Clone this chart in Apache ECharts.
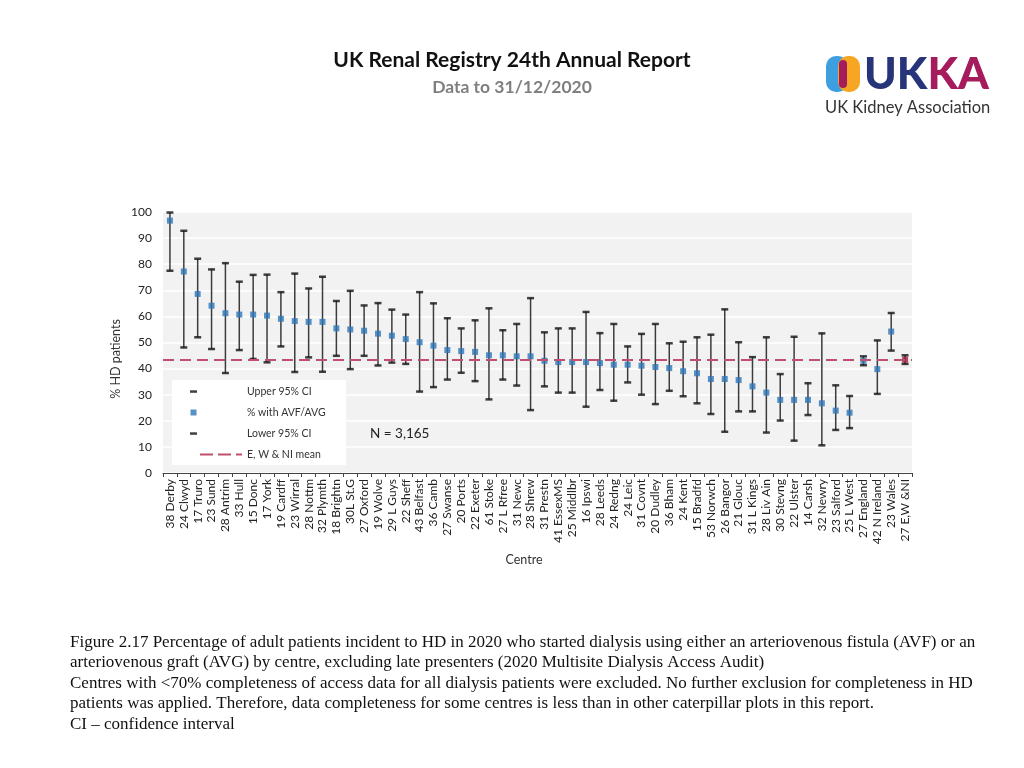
<!DOCTYPE html>
<html>
<head>
<meta charset="utf-8">
<script src="https://cdn.jsdelivr.net/npm/echarts@6/dist/echarts.min.js"></script>
<style>html,body{margin:0;padding:0;background:#fff;}#c{width:1024px;height:768px;}</style>
</head>
<body>
<div id="c"></div>
<script>
var categories = ["38 Derby","24 Clwyd","17 Truro","23 Sund","28 Antrim","33 Hull","15 Donc","17 York","19 Cardff","23 Wirral","28 Nottm","32 Plymth","18 Brightn","30L St.G","27 Oxford","19 Wolve","29 L Guys","22 Sheff","43 Belfast","36 Camb","27 Swanse","20 Ports","22 Exeter","61 Stoke","27 L Rfree","31 Newc","28 Shrew","31 Prestn","41 EssexMS","25 Middlbr","16 Ipswi","28 Leeds","24 Redng","24 Leic","31 Covnt","20 Dudley","36 Bham","24 Kent","15 Bradfd","53 Norwch","26 Bangor","21 Glouc","31 L Kings","28 Liv Ain","30 Stevng","22 Ulster","14 Carsh","32 Newry","23 Salford","25 L West","27 England","42 N Ireland","23 Wales","27 E,W &NI"];
var pctAVF = [96.7,77.2,68.6,64.1,61.2,60.7,60.7,60.3,59.1,58.2,57.9,57.9,55.4,55.0,54.5,53.4,52.6,51.3,50.1,48.8,47.1,46.7,46.4,45.1,45.1,44.7,44.7,43.0,42.5,42.5,42.5,42.1,41.5,41.5,41.1,40.6,40.2,39.0,38.2,36.0,36.0,35.6,33.2,30.8,28.0,28.0,28.0,26.7,23.9,23.1,43.0,39.8,54.2,43.4];
var upperCI = [99.8,92.8,82.1,78.0,80.4,73.3,75.9,76.0,69.3,76.4,70.7,75.2,65.9,69.8,64.2,65.1,62.6,60.7,69.3,65.0,59.3,55.4,58.5,63.1,54.7,57.1,67.0,53.9,55.4,55.4,61.7,53.6,57.1,48.5,53.3,57.1,49.7,50.3,52.0,53.0,62.7,50.1,44.4,52.0,37.9,52.2,34.4,53.5,33.6,29.5,44.7,50.8,61.3,45.1];
var lowerCI = [77.5,48.1,52.0,47.5,38.3,47.1,43.7,42.4,48.5,38.7,44.3,38.8,44.9,39.8,44.9,41.2,42.3,41.8,31.2,32.9,35.8,38.4,35.2,28.2,35.8,33.5,24.1,33.2,30.8,30.8,25.4,31.8,27.7,34.7,30.0,26.4,31.5,29.4,26.7,22.6,15.8,23.6,23.6,15.5,20.1,12.4,22.2,10.6,16.5,17.2,41.3,30.3,46.9,41.8];
var meanValue = 43.4;
var yTicks = [0,10,20,30,40,50,60,70,80,90,100];
var captionLines = [
 "Figure 2.17 Percentage of adult patients incident to HD in 2020 who started dialysis using either an arteriovenous fistula (AVF) or an",
 "arteriovenous graft (AVG) by centre, excluding late presenters (2020 Multisite Dialysis Access Audit)",
 "Centres with <70% completeness of access data for all dialysis patients were excluded. No further exclusion for completeness in HD",
 "patients was applied. Therefore, data completeness for some centres is less than in other caterpillar plots in this report.",
 "CI \u2013 confidence interval"
];

var chart = echarts.init(document.getElementById('c'));
var FONT = 'Lato';
var lastIdx = categories.length - 1;

var pointData = pctAVF.map(function(v, i){
  if (i === lastIdx) return {value: v, itemStyle: {color: '#9e1f3c'}};
  return v;
});
var barData = categories.map(function(c, i){ return [i, lowerCI[i], upperCI[i]]; });

var captionGraphics = captionLines.map(function(t, i){
  return {type:'text', left: 70, top: 634 + i*20.5, z: 10,
    style:{text: t, font: '17px "Liberation Serif"', fill: '#111'}};
});

var dashIcon = 'path://M0,0M56,10M4,3.8L11,3.8L11,6.3L4,6.3Z';
var squareIcon = 'path://M0,0M56,10M4.5,2L10.5,2L10.5,8L4.5,8Z';
var meanIcon = 'path://M0,0M42,10M0,4L13,4L13,6L0,6ZM18,4L31,4L31,6L18,6ZM36,4L42,4L42,6L36,6Z';

var option = {
  animation: false,
  backgroundColor: '#ffffff',
  textStyle: {fontFamily: FONT},
  grid: {left: 163, right: 112, top: 212, bottom: 295, show: true, backgroundColor: '#f2f2f2', borderWidth: 0},
  legend: [
    {orient: 'vertical', left: 186, top: 386, padding: 0, itemWidth: 56, itemHeight: 10, itemGap: 10, z: 6,
     textStyle: {fontSize: 10.5, color: '#333', fontFamily: FONT},
     data: [{name: 'Upper 95% CI', icon: dashIcon}, {name: '% with AVF/AVG', icon: squareIcon}, {name: 'Lower 95% CI', icon: dashIcon}]},
    {orient: 'vertical', left: 200, top: 449, padding: 0, itemWidth: 42, itemHeight: 10, z: 6,
     textStyle: {fontSize: 10.5, color: '#333', fontFamily: FONT},
     data: [{name: 'E, W & NI mean', icon: meanIcon}]}
  ],
  xAxis: {
    type: 'category', data: categories,
    axisLine: {lineStyle: {color: '#444', width: 1}},
    axisTick: {show: true, length: 4, lineStyle: {color: '#444'}},
    axisLabel: {rotate: 90, fontSize: 12, color: '#222', margin: 6, interval: 0, fontFamily: FONT}
  },
  yAxis: {
    type: 'value', min: 0, max: 100, interval: 10,
    axisLine: {show: false}, axisTick: {show: false},
    axisLabel: {fontSize: 12, color: '#222', margin: 11, fontFamily: FONT,
      formatter: function(v){ return yTicks.indexOf(v) >= 0 ? String(v) : ''; }},
    splitLine: {lineStyle: {color: '#ffffff', width: 1.5}}
  },
  graphic: [
    {type: 'rect', left: 172, top: 380, z: 5, shape: {width: 174, height: 85}, style: {fill: '#ffffff'}},
    {type: 'text', left: 370, top: 427, z: 6, style: {text: 'N = 3,165', font: '13.5px Lato', fill: '#222'}},
    {type: 'text', x: 116, y: 359, rotation: Math.PI / 2, z: 6, style: {text: '% HD patients', font: '12.5px Lato', fill: '#333', align: 'center', verticalAlign: 'middle'}},
    {type: 'text', x: 524, y: 560, z: 6, style: {text: 'Centre', font: '12.5px Lato', fill: '#333', align: 'center', verticalAlign: 'middle'}},
    {type: 'text', left: 'center', top: 50, z: 10, style: {text: 'UK Renal Registry 24th Annual Report', font: 'bold 21px Lato', fill: '#111'}},
    {type: 'text', left: 'center', top: 78, z: 10, style: {text: 'Data to 31/12/2020', font: 'bold 17.5px Lato', fill: '#7f7f7f'}},
    {type: 'rect', left: 826, top: 56, z: 10, shape: {width: 22, height: 36, r: 10}, style: {fill: '#3d9ee0'}},
    {type: 'rect', left: 838, top: 56, z: 10, shape: {width: 22, height: 36, r: 10}, style: {fill: '#f6a623'}},
    {type: 'rect', left: 839, top: 60, z: 11, shape: {width: 8, height: 28, r: 4}, style: {fill: '#a51c5c'}},
    {type: 'text', left: 864, top: 53, z: 10, style: {text: '{a|UK}{b|KA}', rich: {a: {font: '900 44px Lato', fill: '#27347a'}, b: {font: '900 44px Lato', fill: '#a51c5c'}}}},
    {type: 'text', left: 825, top: 99, z: 10, style: {text: 'UK Kidney Association', font: '16.5px Lato', fill: '#333'}}
  ].concat(captionGraphics),
  series: [
    {type: 'custom', name: 'CI range', z: 2, data: barData, encode: {x: 0, y: [1, 2]},
     renderItem: function(params, api){
       var lo = api.coord([api.value(0), api.value(1)]);
       var hi = api.coord([api.value(0), api.value(2)]);
       return {type: 'line', shape: {x1: lo[0], y1: lo[1], x2: hi[0], y2: hi[1]}, style: {stroke: '#3c3c3c', lineWidth: 1.5}};
     }},
    {type: 'scatter', name: 'Upper 95% CI', z: 3, symbol: 'rect', symbolSize: [7, 2.5], itemStyle: {color: '#111'}, data: upperCI},
    {type: 'scatter', name: 'Lower 95% CI', z: 3, symbol: 'rect', symbolSize: [7, 2.5], itemStyle: {color: '#111'}, data: lowerCI},
    {type: 'line', name: 'E, W & NI mean', z: 3, data: [], symbol: 'none', itemStyle: {color: '#c0506e'},
     lineStyle: {color: '#c0506e', width: 2, type: [11, 6]},
     markLine: {silent: true, symbol: 'none', label: {show: false}, data: [{yAxis: meanValue}],
       lineStyle: {color: '#c0506e', width: 2, type: [11, 6]}}},
    {type: 'scatter', name: '% with AVF/AVG', z: 4, symbol: 'rect', symbolSize: 6, itemStyle: {color: '#2e75b6'}, data: pointData}
  ]
};
chart.setOption(option);
</script>
</body>
</html>
